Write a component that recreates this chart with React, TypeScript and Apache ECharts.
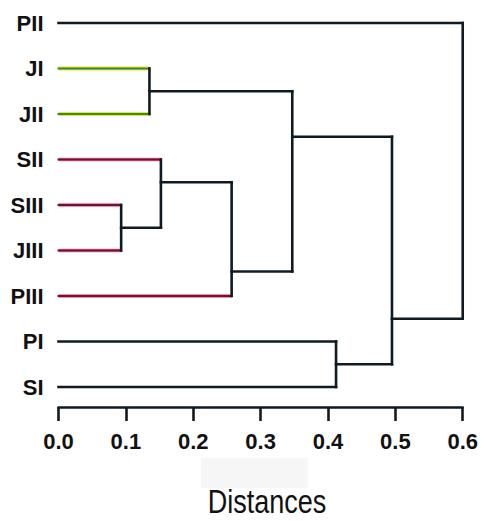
import React, { useEffect, useRef } from "react";
import * as echarts from "echarts";

// Leaves (top to bottom) and their cluster group
const leaves = ["PII", "JI", "JII", "SII", "SIII", "JIII", "PIII", "PI", "SI"];
const leafGroup = ["", "J", "J", "S", "S", "S", "S", "", ""];

// Merges: node ids 0-8 are leaves, merge k creates node 9+k
const mergeLeft = [1, 4, 3, 11, 9, 7, 13, 0];
const mergeRight = [2, 5, 10, 6, 12, 8, 14, 15];
const mergeHeight = [0.135, 0.093, 0.152, 0.257, 0.347, 0.412, 0.495, 0.6];
const mergeY = [1.5, 4.5, 3.5, 5.46, 2.5, 7.5, 6.5, 3.25];

const STYLES: Record<string, { under?: string; underW?: number; color: string; w: number }> = {
  "": { color: "#0f1b22", w: 2.6 },
  J: { under: "#ece52e", underW: 4.2, color: "#2e8a3c", w: 2 },
  S: { under: "#ee6d95", underW: 3.6, color: "#6e1230", w: 2 },
};
const styleKeys = ["", "J", "S"];

function buildSegments() {
  const nodeH: number[] = [];
  const nodeY: number[] = [];
  leaves.forEach((_, i) => {
    nodeH[i] = 0;
    nodeY[i] = i;
  });
  mergeHeight.forEach((h, k) => {
    nodeH[leaves.length + k] = h;
    nodeY[leaves.length + k] = mergeY[k];
  });
  const segs: number[][] = [];
  mergeHeight.forEach((h, k) => {
    [mergeLeft[k], mergeRight[k]].forEach((c) => {
      const key = c < leaves.length ? leafGroup[c] : "";
      segs.push([nodeH[c], nodeY[c], h, nodeY[c], styleKeys.indexOf(key)]);
    });
    segs.push([h, nodeY[mergeLeft[k]], h, nodeY[mergeRight[k]], 0]);
  });
  // colored segments drawn first so black verticals sit on top
  segs.sort((a, b) => b[4] - a[4]);
  return segs;
}

export default function App() {
  const ref = useRef<HTMLDivElement>(null);
  useEffect(() => {
    if (!ref.current) return;
    const chart = echarts.init(ref.current, null, { renderer: "svg" });
    const segs = buildSegments();
    chart.setOption({
      animation: false,
      backgroundColor: "#ffffff",
      grid: { left: 58.5, right: 17.5, top: 23, bottom: 134 },
      xAxis: {
        type: "value",
        min: 0,
        max: 0.6,
        interval: 0.1,
        offset: 20,
        axisLine: { show: true, onZero: false, lineStyle: { color: "#0f1b22", width: 2.6 } },
        axisTick: { show: true, length: 14, lineStyle: { color: "#0f1b22", width: 2.6 } },
        axisLabel: {
          margin: 23,
          color: "#111",
          fontSize: 22,
          fontWeight: "bold",
          fontFamily: "Liberation Sans, Arial, sans-serif",
          formatter: (v: number) => v.toFixed(1),
        },
        splitLine: { show: false },
      },
      yAxis: {
        type: "value",
        min: 0,
        max: 8,
        interval: 1,
        inverse: true,
        axisLine: { show: false },
        axisTick: { show: false },
        splitLine: { show: false },
        axisLabel: {
          margin: 15,
          color: "#111",
          fontSize: 22,
          fontWeight: "bold",
          fontFamily: "Liberation Sans, Arial, sans-serif",
          formatter: (v: number) => leaves[v] ?? "",
        },
      },
      graphic: [
        { type: "rect", shape: { x: 201, y: 458, width: 107, height: 30 }, style: { fill: "#f6f6f6" }, z: -1 },
        {
          type: "text",
          x: 267,
          y: 502,
          scaleX: 0.82,
          style: {
            text: "Distances",
            fontSize: 33,
            fontFamily: "Liberation Sans, Arial, sans-serif",
            fill: "#111",
            textAlign: "center",
            textVerticalAlign: "middle",
          },
        },
      ],
      series: [
        {
          type: "custom",
          clip: false,
          encode: { x: [0, 2], y: [1, 3] },
          data: segs,
          renderItem: (params: any, api: any) => {
            const p1 = api.coord([api.value(0), api.value(1)]);
            const p2 = api.coord([api.value(2), api.value(3)]);
            const st = STYLES[styleKeys[api.value(4)]];
            const children: any[] = [];
            if (st.under) {
              children.push({
                type: "line",
                shape: { x1: p1[0], y1: p1[1], x2: p2[0], y2: p2[1] },
                style: { stroke: st.under, lineWidth: st.underW, lineCap: "butt" },
              });
            }
            children.push({
              type: "line",
              shape: { x1: p1[0], y1: p1[1], x2: p2[0], y2: p2[1] },
              style: { stroke: st.color, lineWidth: st.w, lineCap: "square" },
            });
            return { type: "group", children };
          },
        },
      ],
    });
    return () => chart.dispose();
  }, []);
  return (
    <div
      ref={ref}
      style={{ position: "fixed", left: 0, top: 0, width: 481, height: 521 }}
    />
  );
}
